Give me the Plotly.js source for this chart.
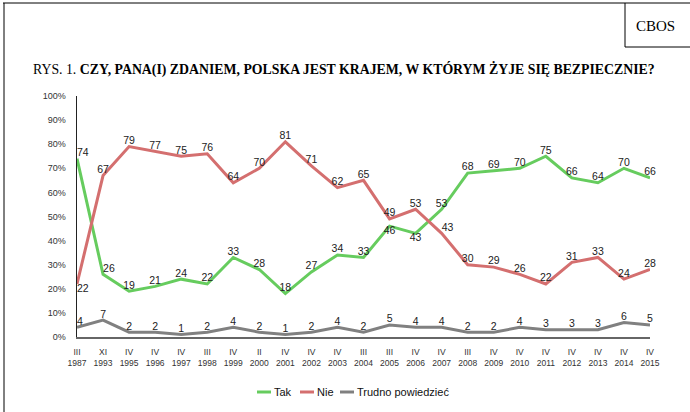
<!DOCTYPE html>
<html>
<head>
<meta charset="utf-8">
<script src="https://cdn.plot.ly/plotly-3.0.1.min.js"></script>
<style>html,body{margin:0;padding:0;background:#fff;}#chart{width:690px;height:412px;}</style>
</head>
<body>
<div id="chart"></div>
<script>
const categories = ["III<br>1987","XI<br>1993","IV<br>1995","IV<br>1996","IV<br>1997","III<br>1998","IV<br>1999","II<br>2000","IV<br>2001","IV<br>2002","IV<br>2003","III<br>2004","III<br>2005","IV<br>2006","IV<br>2007","III<br>2008","IV<br>2009","IV<br>2010","IV<br>2011","IV<br>2012","IV<br>2013","IV<br>2014","IV<br>2015"];
const tak = [74,26,19,21,24,22,33,28,18,27,34,33,46,43,53,68,69,70,75,66,64,70,66];
const nie = [22,67,79,77,75,76,64,70,81,71,62,65,49,53,43,30,29,26,22,31,33,24,28];
const trudno = [4,7,2,2,1,2,4,2,1,2,4,2,5,4,4,2,2,4,3,3,3,6,5];
const seriesNames = ["Tak","Nie","Trudno powiedzieć"];
const seriesColors = ["#66cc5e","#d46f6f","#808080"];
const yTicks = [0,10,20,30,40,50,60,70,80,90,100];

const W = 690, H = 412, L = 77, R = 40, T = 96, B = 75;
const pw = W - L - R, ph = H - T - B;
const px = x => (x - L) / pw;
const py = y => (H - B - y) / ph;

const idx = categories.map((_, i) => i);
const takPos = tak.map((v, i) => i < 2 ? "top right" : (i === 12 || i === 13 ? "bottom center" : "top center"));
const niePos = nie.map((v, i) => i === 0 ? "bottom right" : (i === 14 ? "top right" : "top center"));
const trudnoPos = trudno.map((v, i) => i === 0 ? "top right" : "top center");

const lbl = {family: "Liberation Sans, Arial, sans-serif", size: 10.5, color: "#222"};
const allSeries = [tak, nie, trudno];
const allPos = [takPos, niePos, trudnoPos];
const traces = allSeries.map((s, k) => ({
  x: idx, y: s, name: seriesNames[k], type: "scatter", mode: "lines+text",
  text: s.map(String), textposition: allPos[k], textfont: lbl,
  line: {color: seriesColors[k], width: 3}, cliponaxis: false, showlegend: false
}));

const line = {color: "#000", width: 1};
const shapes = [
  {type: "line", xref: "paper", yref: "paper", x0: px(3), x1: px(690), y0: py(3), y1: py(3), line: line},
  {type: "line", xref: "paper", yref: "paper", x0: px(4), x1: px(4), y0: py(3), y1: py(412), line: line},
  {type: "line", xref: "paper", yref: "paper", x0: px(625), x1: px(625), y0: py(3), y1: py(47), line: line},
  {type: "line", xref: "paper", yref: "paper", x0: px(625), x1: px(690), y0: py(47), y1: py(47), line: line}
];
const annotations = [
  {xref: "paper", yref: "paper", x: px(656), y: py(26), xanchor: "center", yanchor: "middle", showarrow: false,
   text: "CBOS", font: {family: "Liberation Serif, Times New Roman, serif", size: 15, color: "#000"}},
  {xref: "paper", yref: "paper", x: px(344), y: py(70), xanchor: "center", yanchor: "middle", showarrow: false,
   text: "RYS. 1. <b>CZY, PANA(I) ZDANIEM, POLSKA JEST KRAJEM, W KTÓRYM ŻYJE SIĘ BEZPIECZNIE?</b>",
   font: {family: "Liberation Serif, Times New Roman, serif", size: 13.8, color: "#000"}}
];
// custom compact legend
const legX = [257, 300, 340];
seriesNames.forEach((n, k) => {
  shapes.push({type: "line", xref: "paper", yref: "paper", x0: px(legX[k]), x1: px(legX[k] + 14), y0: py(392), y1: py(392),
               line: {color: seriesColors[k], width: 3}});
  annotations.push({xref: "paper", yref: "paper", x: px(legX[k] + 15), y: py(392), xanchor: "left", yanchor: "middle",
                    showarrow: false, text: n, font: {family: "Liberation Sans, Arial, sans-serif", size: 11, color: "#111"}});
});

const layout = {
  width: W, height: H,
  margin: {l: L, r: R, t: T, b: B},
  paper_bgcolor: "#fff", plot_bgcolor: "#fff",
  font: {family: "Liberation Sans, Arial, sans-serif", size: 9, color: "#333"},
  showlegend: false,
  xaxis: {
    range: [0, categories.length - 1], tickmode: "array", tickvals: idx, ticktext: categories,
    showgrid: false, zeroline: false, showline: true, linecolor: "#666", linewidth: 2,
    ticks: "", tickfont: {size: 8.5, color: "#333"}, ticklabelstandoff: 6, fixedrange: true
  },
  yaxis: {
    range: [0, 100], tickmode: "array", tickvals: yTicks, ticktext: yTicks.map(v => v + "%"),
    showgrid: false, zeroline: false, showline: true, linecolor: "#222", linewidth: 1.5,
    ticks: "", tickfont: {size: 9, color: "#333"}, ticklabelstandoff: 8, fixedrange: true
  },
  shapes: shapes,
  annotations: annotations
};

Plotly.newPlot("chart", traces, layout, {displayModeBar: false, staticPlot: true});
</script>
</body>
</html>
